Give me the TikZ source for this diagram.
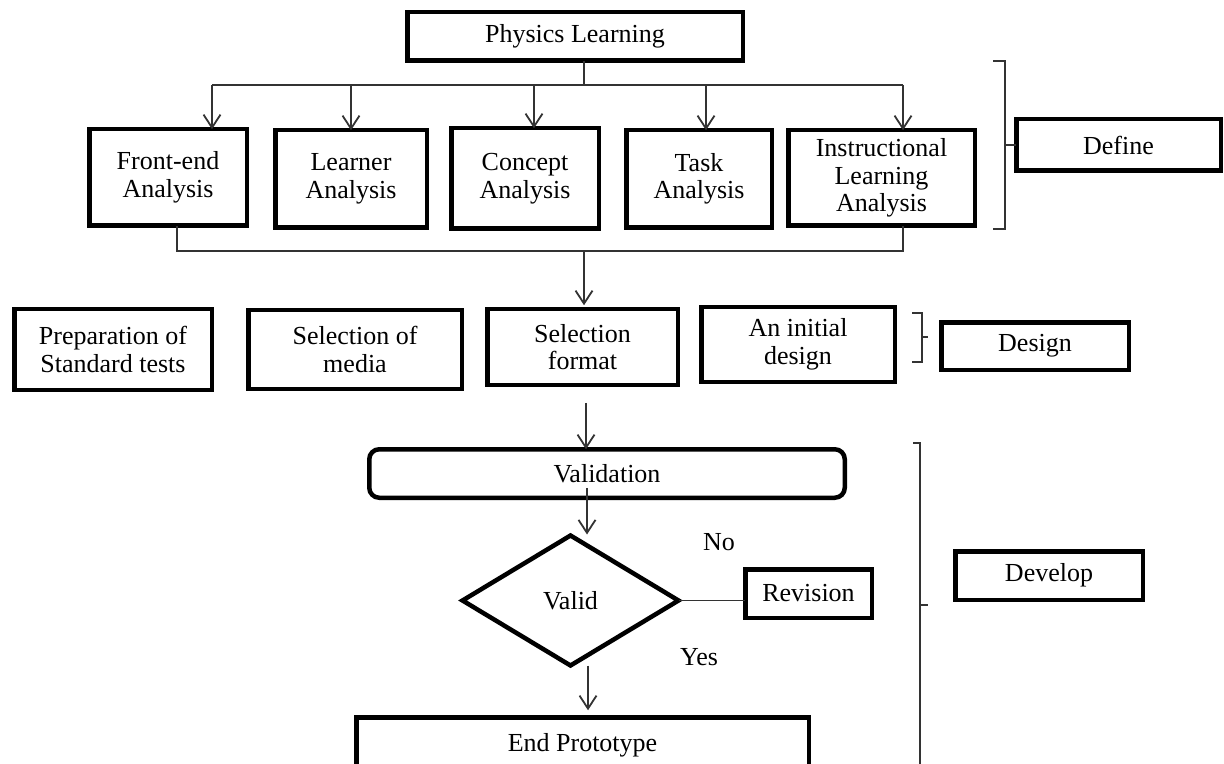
\documentclass[tikz,border=0pt]{standalone}
\usepackage{fontspec}
\setmainfont{Liberation Serif}
\usetikzlibrary{arrows.meta,shapes.geometric}

\begin{document}
\begin{tikzpicture}[
x=0.5pt, y=-0.5pt,
 font=\fontsize{13}{13.75}\selectfont,
    B/.style = {rectangle, draw, line width=2.25pt,% styles of boxes
                inner sep=0pt, outer sep=0pt, align=center},
    R/.style = {B, rounded corners=5pt},
    D/.style = {diamond, draw, line width=2.25pt,% style of the decision
                inner sep=0pt, outer sep=0pt,
                minimum width=108pt, minimum height=65pt},
    L/.style = {draw=black!80, line width=0.9pt},
    A/.style = {L, -{Straight Barb[length=6.5pt,width=8.5pt]}},
                        ]
\useasboundingbox (0,0) rectangle (1224,764);
% define
\node[B, minimum width=167.75pt, minimum height=24.25pt] (phys) at (575,36.5) {Physics Learning};
\foreach \n/\x/\y/\w/\h/\t in {front/168/177.5/78.75/48.25/{Front-end\\Analysis},
                               learner/351/179/75.75/48.75/{Learner\\Analysis},
                               concept/525/178.5/73.75/50.25/{Concept\\Analysis},
                               task/699/179/72.75/48.75/{Task\\Analysis},
                               instr/881.5/178/93.25/47.75/{Instructional\\Learning\\Analysis}}% <-- analyses
    \node[B, minimum width=\w pt, minimum height=\h pt] (\n) at (\x,\y) {\t};
\node[B, minimum width=102.25pt, minimum height=25.75pt] (define) at (1118.5,145) {Define};
% design
\node[B, minimum width=98.75pt, minimum height=40.25pt] (prep) at (113,349.5) {Preparation of\\Standard tests};
\node[B, minimum width=106.75pt, minimum height=39.25pt] (media) at (355,349.5) {Selection of\\media};
\node[B, minimum width=95.25pt, minimum height=37.75pt] (format) at (582.5,347) {Selection\\format};
\node[B, minimum width=96.75pt, minimum height=37.25pt] (initial) at (798,344.5) {An initial\\design};
\node[B, minimum width=93.75pt, minimum height=23.75pt] (design) at (1035,346) {Design};
% develop
\node[R, minimum width=237.75pt, minimum height=24.25pt] (valbox) at (607,473.5) {Validation};
\node[D] (valid) at (570.5,600.5) {Valid};
\node[B, minimum width=63.25pt, minimum height=24.25pt] (revision) at (808.5,593.5) {Revision};
\node (no) at (719,542) {No};
\node (yes) at (699,657) {Yes};
\node[B, minimum width=226.25pt, minimum height=27.75pt] (endp) at (582.5,745) {End Prototype};
\node[B, minimum width=93.75pt, minimum height=24.25pt] (develop) at (1049,575.5) {Develop};
% connectors
\coordinate (stem) at (584,85);
\coordinate (join) at (584,251);
\draw[L] (phys.south -| stem) -- (stem);
\draw[L] (212,85) -- (903,85);
\foreach \n/\x in {front/212,learner/351,concept/534,task/706,instr/903}
    \draw[A] (stem -| \x,0) -- (\n.north -| \x,0);
\draw[L] (front.south -| 177,0) |- (join) -| (instr.south -| 903,0);
\draw[A] (join) -- ([yshift=2pt]format.north -| join);
\draw[A] ([yshift=-9pt]format.south -| 586,0) -- (valbox.north -| 586,0);
\draw[A] ([yshift=5pt]valbox.south -| 587,0) -- ([yshift=0.5pt]valid.north -| 587,0);
\draw[L] (valid.east) -- (revision.west |- valid.east);
\draw[A] (valid.south -| 588,0) -- ([yshift=3.5pt]endp.north -| 588,0);
% brackets
\draw[L] (993,61) -- (1005,61) -- (1005,229) -- (993,229);
\draw[L] (1005,145) -- (define.west);
\draw[L] (912,313) -- (922,313) -- (922,362) -- (912,362) (922,337) -- (928,337);
\draw[L] (913,443) -- (920,443) -- (920,790) (920,605) -- (928,605);
\end{tikzpicture}
\end{document}
